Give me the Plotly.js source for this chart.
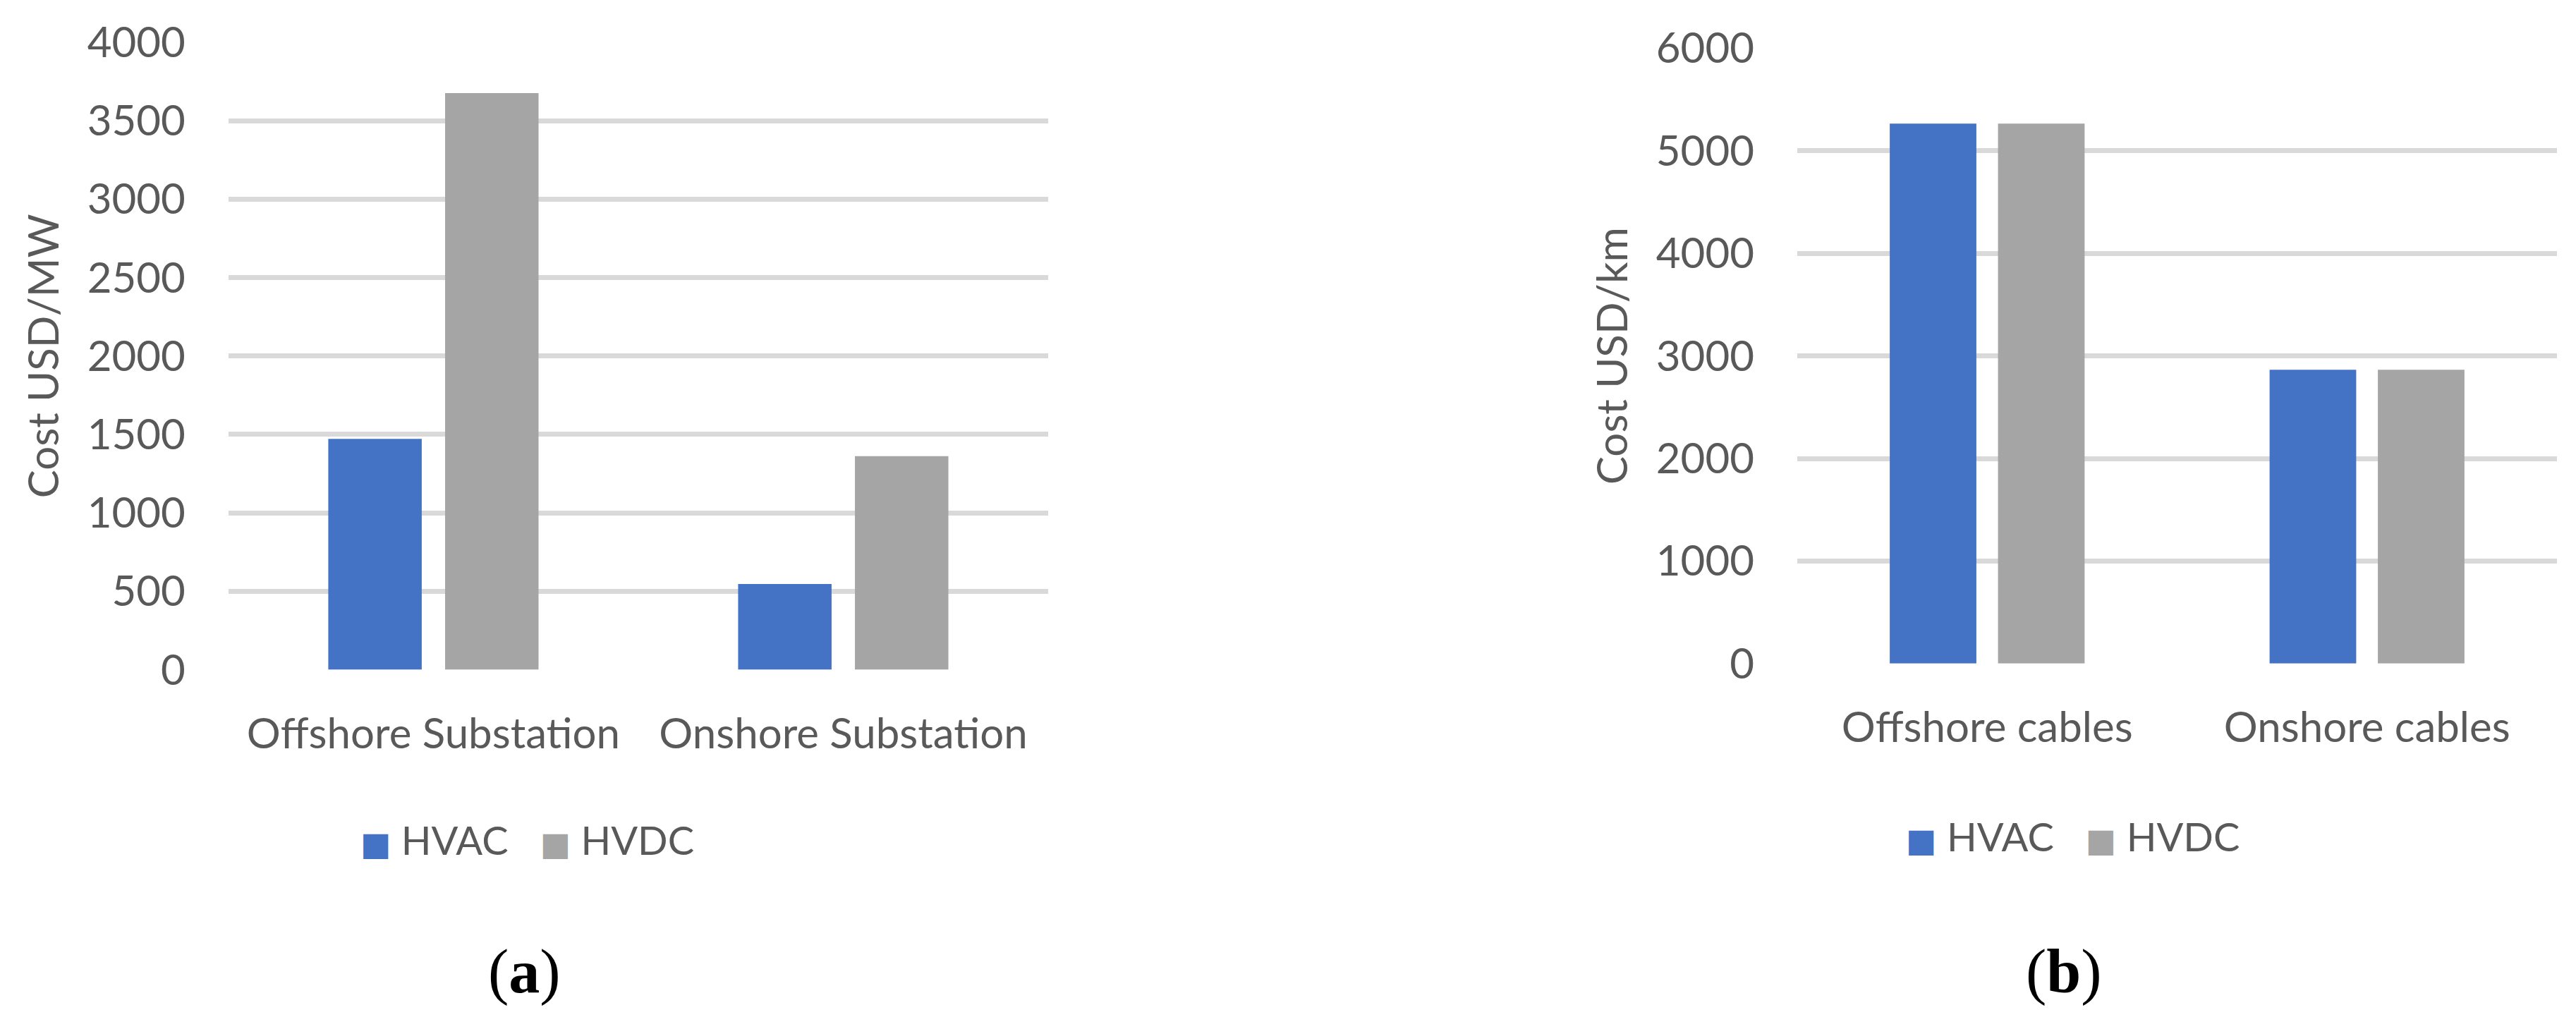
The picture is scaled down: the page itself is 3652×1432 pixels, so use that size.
<!DOCTYPE html>
<html>
<head>
<meta charset="utf-8">
<script src="https://cdn.plot.ly/plotly-3.0.1.min.js"></script>
<style>
  html, body { margin: 0; padding: 0; background: #fff; }
  #chart { width: 3652px; height: 1432px; }
</style>
</head>
<body>
<div id="chart"></div>
<script>
// (a) substations, cost per MW
const substations = ["Offshore Substation", "Onshore Substation"];
const substationHVAC = [1472, 547];
const substationHVDC = [3676, 1362];

// (b) cables, cost per km
const cables = ["Offshore cables", "Onshore cables"];
const cableHVAC = [5266, 2865];
const cableHVDC = [5266, 2865];

const seriesNames = ["HVAC", "HVDC"];
const blue = "#4472C4";
const grey = "#A5A5A5";
const textColor = "#595959";
const gridColor = "#D9D9D9";
const font = { family: "Lato, 'Open Sans', sans-serif", size: 60, color: textColor };
const legendFont = { family: "Lato, 'Open Sans', sans-serif", size: 56, color: textColor };

function bars(x, y, color, xa, ya) {
  return {
    type: "bar", x: x, y: y, xaxis: xa, yaxis: ya,
    marker: { color: color }, showlegend: false, hoverinfo: "x+y"
  };
}

// legend-only entries, so the swatch can be sized like the original
function legendEntry(name, color, legend) {
  return {
    type: "scatter", mode: "none", x: [null], y: [null],
    name: '<span style="color:' + color + ';font-family:DejaVu Sans;font-size:46px">■</span>&nbsp;' + name,
    legend: legend, showlegend: true, hoverinfo: "skip"
  };
}

const traces = [
  bars(substations, substationHVAC, blue, "x", "y"),
  bars(substations, substationHVDC, grey, "x", "y"),
  bars(cables, cableHVAC, blue, "x2", "y2"),
  bars(cables, cableHVDC, grey, "x2", "y2"),
  legendEntry(seriesNames[0], blue, "legend"),
  legendEntry(seriesNames[1], grey, "legend"),
  legendEntry(seriesNames[0], blue, "legend2"),
  legendEntry(seriesNames[1], grey, "legend2")
];

const yCommon = {
  gridcolor: gridColor, gridwidth: 7, zeroline: false, showline: false,
  tickfont: font, ticklabelstandoff: 60, automargin: false, fixedrange: true
};
const xCommon = {
  showgrid: false, zeroline: false, showline: false, tickfont: font,
  ticklabelstandoff: 50, automargin: false, fixedrange: true
};

const legendCommon = {
  orientation: "h", font: legendFont, xanchor: "center", yanchor: "middle",
  bgcolor: "rgba(0,0,0,0)", itemwidth: 30, traceorder: "normal"
};

const layout = {
  width: 3652, height: 1432,
  margin: { l: 0, r: 0, t: 0, b: 0 },
  paper_bgcolor: "#fff", plot_bgcolor: "#fff",
  barmode: "group", bargap: 0.43, bargroupgap: 0.2,
  font: font,
  xaxis: Object.assign({}, xCommon, { domain: [0.0887, 0.4069], anchor: "y" }),
  yaxis: Object.assign({}, yCommon, {
    domain: [0.3369, 0.9581], anchor: "x", range: [0, 4000], dtick: 500,
    title: { text: "Cost USD/MW", font: font, standoff: 20 }
  }),
  xaxis2: Object.assign({}, xCommon, { domain: [0.6977, 0.9926], anchor: "y2" }),
  yaxis2: Object.assign({}, yCommon, {
    domain: [0.3430, 0.9522], anchor: "x2", range: [0, 6000], dtick: 1000,
    title: { text: "Cost USD/km", font: font, standoff: 20 }
  }),
  legend: Object.assign({}, legendCommon, { x: 0.2, y: 0.169 }),
  legend2: Object.assign({}, legendCommon, { x: 0.8, y: 0.172 }),
  annotations: [
    { text: "(<b>a</b>)", x: 0.2037, y: 0.038, xref: "paper", yref: "paper",
      showarrow: false, xanchor: "center", yanchor: "middle",
      font: { family: "Liberation Serif, Times New Roman, serif", size: 88, color: "#000" } },
    { text: "(<b>b</b>)", x: 0.8012, y: 0.038, xref: "paper", yref: "paper",
      showarrow: false, xanchor: "center", yanchor: "middle",
      font: { family: "Liberation Serif, Times New Roman, serif", size: 88, color: "#000" } }
  ]
};

Plotly.newPlot("chart", traces, layout, { displayModeBar: false, staticPlot: true });
</script>
</body>
</html>
